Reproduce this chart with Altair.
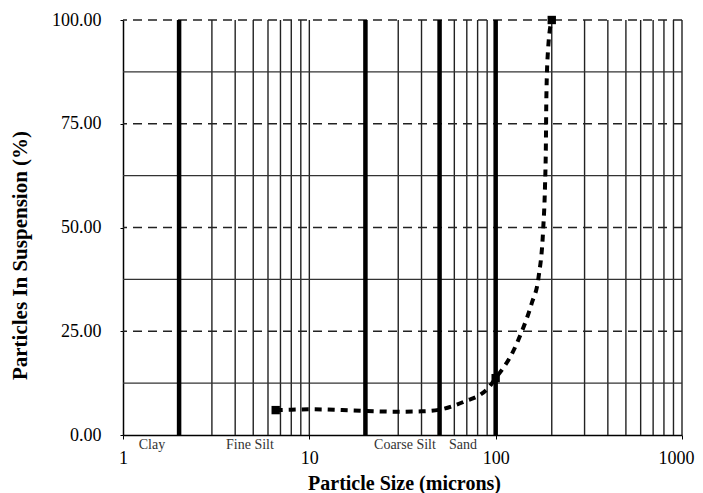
import altair as alt
import pandas as pd

# ---- data ----
curve_x = [6.6, 8, 10, 15, 20, 30, 40, 50, 60, 70, 82, 92, 100, 110, 120, 138, 156, 170, 180, 184, 186, 187, 191, 200]
curve_y = [6.0, 6.1, 6.2, 6.0, 5.8, 5.6, 5.7, 6.1, 7.1, 8.3, 9.6, 11.5, 13.7, 16.2, 18.9, 24.9, 31.7, 38.1, 49.8, 60.0, 70.0, 80.7, 92.8, 100.0]
marker_x = [6.6, 100, 200]
marker_y = [6.0, 13.7, 100.0]

thin_x = [3, 4, 5, 6, 7, 8, 9, 10, 30, 40, 60, 70, 80, 90, 200, 300, 400, 500, 600, 700, 800, 900, 1000]
thick_x = [2, 20, 50, 100]
dash_y = [25, 50, 75, 100]
solid_y = [12.5, 37.5, 62.5, 87.5]

class_names = ["Clay", "Fine Silt", "Coarse Silt", "Sand"]
class_x = [1.43, 4.8, 32.6, 66.8]

x_ticks = [1, 10, 100, 1000]
y_ticks = [0, 25, 50, 75, 100]

FONT = "Liberation Serif"

curve_df = pd.DataFrame({"x": curve_x, "y": curve_y})
marker_df = pd.DataFrame({"x": marker_x, "y": marker_y})
thin_df = pd.DataFrame({"x": thin_x})
thick_df = pd.DataFrame({"x": thick_x})
dash_df = pd.DataFrame({"y": dash_y})
solid_df = pd.DataFrame({"y": solid_y})
class_df = pd.DataFrame({"name": class_names, "x": class_x, "y": [0] * len(class_names)})

xscale = alt.Scale(type="log", domain=[1, 1000], nice=False)
yscale = alt.Scale(domain=[0, 100], nice=False, zero=False)

last_tick = "datum.value == 1000"
xaxis = alt.Axis(
    values=x_ticks, format="d", title="Particle Size (microns)", grid=False,
    labelFont=FONT, labelFontSize=18, labelColor="black", labelPadding=10,
    labelAlign={"condition": {"test": last_tick, "value": "right"}, "value": "center"},
    labelOffset={"condition": {"test": last_tick, "value": 12}, "value": 0},
    tickSize=4, tickColor="black", domainColor="black", domainWidth=1.5,
    titleFont=FONT, titleFontSize=20, titleFontWeight="bold", titleColor="black",
    titleX=281, titleY=54, titleBaseline="alphabetic", labelFlush=False, labelOverlap=False,
)
yaxis = alt.Axis(
    values=y_ticks, format=".2f", title="Particles In Suspension (%)", grid=False,
    labelFont=FONT, labelFontSize=18, labelColor="black", labelPadding=19,
    tickSize=3, tickColor="black", domainColor="black", domainWidth=1.5,
    titleFont=FONT, titleFontSize=21, titleFontWeight="bold", titleColor="black",
    titleX=-103, titleY=235, titleAngle=270, titleBaseline="middle", titleAlign="center",
    labelFlush=False,
)

thin = alt.Chart(thin_df).mark_rule(color="#222222", strokeWidth=1.4).encode(
    x=alt.X("x:Q", scale=xscale, axis=xaxis)
)
thick = alt.Chart(thick_df).mark_rule(color="black", strokeWidth=4.5).encode(
    x=alt.X("x:Q", scale=xscale)
)
hsolid = alt.Chart(solid_df).mark_rule(color="#333333", strokeWidth=1.4).encode(
    y=alt.Y("y:Q", scale=yscale, axis=yaxis)
)
hdash = alt.Chart(dash_df).mark_rule(color="#222222", strokeWidth=1.4, strokeDash=[9, 6]).encode(
    y=alt.Y("y:Q", scale=yscale)
)
curve = alt.Chart(curve_df).mark_line(
    color="black", strokeWidth=4, strokeDash=[7, 6], interpolate="monotone"
).encode(
    x=alt.X("x:Q", scale=xscale), y=alt.Y("y:Q", scale=yscale)
)
markers = alt.Chart(marker_df).mark_point(
    shape="square", filled=True, color="black", size=70, opacity=1
).encode(
    x=alt.X("x:Q", scale=xscale), y=alt.Y("y:Q", scale=yscale)
)
labels = alt.Chart(class_df).mark_text(
    font=FONT, fontSize=14, color="#333333", baseline="top", dy=3
).encode(
    x=alt.X("x:Q", scale=xscale), y=alt.Y("y:Q", scale=yscale), text="name:N"
)

chart = alt.layer(thin, hsolid, hdash, thick, curve, markers, labels).properties(
    width=559, height=415, autosize="none",
    padding={"left": 115, "top": 12, "right": 13, "bottom": 58},
    background="white",
).configure_view(strokeWidth=0)

chart.save("out.html", embed_options={"renderer": "svg", "actions": False})
